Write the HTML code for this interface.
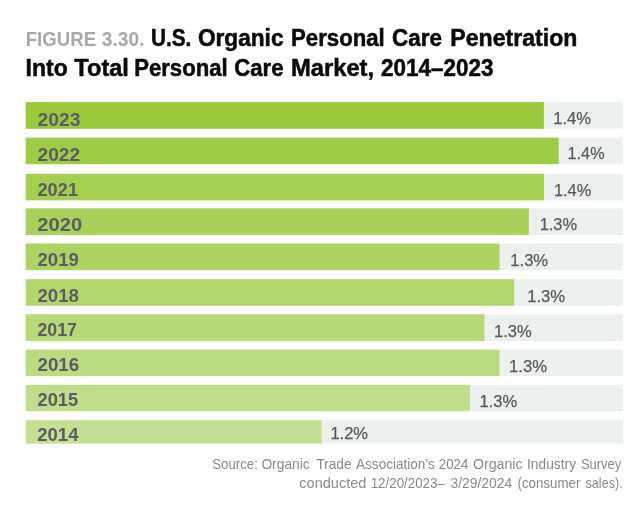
<!DOCTYPE html>
<html lang="en"><head><meta charset="utf-8"><title>Figure 3.30</title>
<style>
html,body{margin:0;padding:0;background:#fff;}
body{width:644px;height:532px;overflow:hidden;position:relative;font-family:"Liberation Sans",sans-serif;}
svg{position:absolute;left:0;top:0;display:block;}
text{font-family:"Liberation Sans",sans-serif;}
.t{font-weight:bold;font-size:23px;fill:#0a0a0a;stroke:#0a0a0a;stroke-width:0.5px;}
.f{font-weight:bold;font-size:20px;fill:#a6a8ab;}
.y{font-weight:bold;font-size:18.3px;fill:#5d5b64;}
.v{font-size:16.8px;fill:#58595b;stroke:#58595b;stroke-width:0.25px;}
.s{font-size:14.5px;fill:#87898c;}
</style></head><body>
<svg width="644" height="532" viewBox="0 0 644 532">
<rect x="25.7" y="102.1" width="597.20" height="26.70" fill="#ecf0ef"/>
<rect x="25.7" y="102.1" width="518.20" height="26.70" fill="rgb(154, 202, 60)"/>
<rect x="25.7" y="137.7" width="597.20" height="26.45" fill="#ecf0ef"/>
<rect x="25.7" y="137.7" width="533.00" height="26.45" fill="rgb(159, 204, 70)"/>
<rect x="25.7" y="173.8" width="597.20" height="26.55" fill="#ecf0ef"/>
<rect x="25.7" y="173.8" width="518.30" height="26.55" fill="rgb(164, 207, 80)"/>
<rect x="25.7" y="208.4" width="597.20" height="26.55" fill="#ecf0ef"/>
<rect x="25.7" y="208.4" width="503.20" height="26.55" fill="rgb(168, 209, 89)"/>
<rect x="25.7" y="243.5" width="597.20" height="26.65" fill="#ecf0ef"/>
<rect x="25.7" y="243.5" width="473.70" height="26.65" fill="rgb(173, 212, 99)"/>
<rect x="25.7" y="279.2" width="597.20" height="26.55" fill="#ecf0ef"/>
<rect x="25.7" y="279.2" width="488.50" height="26.55" fill="rgb(178, 214, 109)"/>
<rect x="25.7" y="314.25" width="597.20" height="26.85" fill="#ecf0ef"/>
<rect x="25.7" y="314.25" width="458.70" height="26.85" fill="rgb(183, 217, 119)"/>
<rect x="25.7" y="349.6" width="597.20" height="26.50" fill="#ecf0ef"/>
<rect x="25.7" y="349.6" width="473.80" height="26.50" fill="rgb(187, 219, 128)"/>
<rect x="25.7" y="384.9" width="597.20" height="26.25" fill="#ecf0ef"/>
<rect x="25.7" y="384.9" width="444.20" height="26.25" fill="rgb(192, 222, 138)"/>
<rect x="25.7" y="420.2" width="597.20" height="23.40" fill="#ecf0ef"/>
<rect x="25.7" y="420.2" width="296.00" height="23.40" fill="rgb(197, 224, 148)"/>
<text class="f" x="25.67" y="45.6" textLength="70.45" lengthAdjust="spacingAndGlyphs">FIGURE</text>
<text class="f" x="101.83" y="45.6" textLength="42.67" lengthAdjust="spacingAndGlyphs">3.30.</text>
<text class="t" x="150.94" y="45.6" textLength="40.39" lengthAdjust="spacingAndGlyphs">U.S.</text>
<text class="t" x="197.89" y="45.6" textLength="85.62" lengthAdjust="spacingAndGlyphs">Organic</text>
<text class="t" x="291.01" y="45.6" textLength="93.77" lengthAdjust="spacingAndGlyphs">Personal</text>
<text class="t" x="392.03" y="45.6" textLength="49.93" lengthAdjust="spacingAndGlyphs">Care</text>
<text class="t" x="450.37" y="45.6" textLength="127.05" lengthAdjust="spacingAndGlyphs">Penetration</text>
<text class="t" x="25.55" y="76.3" textLength="42.13" lengthAdjust="spacingAndGlyphs">Into</text>
<text class="t" x="74.35" y="76.3" textLength="54.54" lengthAdjust="spacingAndGlyphs">Total</text>
<text class="t" x="134.17" y="76.3" textLength="93.57" lengthAdjust="spacingAndGlyphs">Personal</text>
<text class="t" x="234.23" y="76.3" textLength="49.28" lengthAdjust="spacingAndGlyphs">Care</text>
<text class="t" x="290.91" y="76.3" textLength="83.24" lengthAdjust="spacingAndGlyphs">Market,</text>
<text class="t" x="380.99" y="76.3" textLength="112.46" lengthAdjust="spacingAndGlyphs">2014–2023</text>
<text class="y" x="37.48" y="126.0" textLength="43.19" lengthAdjust="spacingAndGlyphs">2023</text>
<text class="v" x="553.34" y="124.0" textLength="37.68" lengthAdjust="spacingAndGlyphs">1.4%</text>
<text class="y" x="37.48" y="160.79999999999998" textLength="42.80" lengthAdjust="spacingAndGlyphs">2022</text>
<text class="v" x="567.60" y="159.2" textLength="36.96" lengthAdjust="spacingAndGlyphs">1.4%</text>
<text class="y" x="37.49" y="196.2" textLength="40.53" lengthAdjust="spacingAndGlyphs">2021</text>
<text class="v" x="553.96" y="195.5" textLength="37.26" lengthAdjust="spacingAndGlyphs">1.4%</text>
<text class="y" x="37.22" y="230.79999999999998" textLength="45.01" lengthAdjust="spacingAndGlyphs">2020</text>
<text class="v" x="539.65" y="230.4" textLength="37.42" lengthAdjust="spacingAndGlyphs">1.3%</text>
<text class="y" x="37.48" y="266.2" textLength="41.48" lengthAdjust="spacingAndGlyphs">2019</text>
<text class="v" x="510.35" y="265.8" textLength="37.72" lengthAdjust="spacingAndGlyphs">1.3%</text>
<text class="y" x="37.48" y="301.8" textLength="41.48" lengthAdjust="spacingAndGlyphs">2018</text>
<text class="v" x="527.14" y="301.6" textLength="38.02" lengthAdjust="spacingAndGlyphs">1.3%</text>
<text class="y" x="37.48" y="336.3" textLength="39.49" lengthAdjust="spacingAndGlyphs">2017</text>
<text class="v" x="493.96" y="336.9" textLength="37.71" lengthAdjust="spacingAndGlyphs">1.3%</text>
<text class="y" x="37.47" y="371.3" textLength="41.80" lengthAdjust="spacingAndGlyphs">2016</text>
<text class="v" x="509.00" y="371.8" textLength="38.02" lengthAdjust="spacingAndGlyphs">1.3%</text>
<text class="y" x="37.49" y="406.2" textLength="40.73" lengthAdjust="spacingAndGlyphs">2015</text>
<text class="v" x="479.50" y="407.1" textLength="37.72" lengthAdjust="spacingAndGlyphs">1.3%</text>
<text class="y" x="37.24" y="441.4" textLength="41.22" lengthAdjust="spacingAndGlyphs">2014</text>
<text class="v" x="330.46" y="439.4" textLength="37.57" lengthAdjust="spacingAndGlyphs">1.2%</text>
<text class="s" x="212.22" y="469.1" textLength="45.64" lengthAdjust="spacingAndGlyphs">Source:</text>
<text class="s" x="261.38" y="469.1" textLength="48.32" lengthAdjust="spacingAndGlyphs">Organic</text>
<text class="s" x="316.44" y="469.1" textLength="35.07" lengthAdjust="spacingAndGlyphs">Trade</text>
<text class="s" x="356.05" y="469.1" textLength="78.80" lengthAdjust="spacingAndGlyphs">Association’s</text>
<text class="s" x="438.83" y="469.1" textLength="29.44" lengthAdjust="spacingAndGlyphs">2024</text>
<text class="s" x="473.04" y="469.1" textLength="49.48" lengthAdjust="spacingAndGlyphs">Organic</text>
<text class="s" x="527.01" y="469.1" textLength="49.09" lengthAdjust="spacingAndGlyphs">Industry</text>
<text class="s" x="580.89" y="469.1" textLength="40.27" lengthAdjust="spacingAndGlyphs">Survey</text>
<text class="s" x="299.34" y="487.8" textLength="67.04" lengthAdjust="spacingAndGlyphs">conducted</text>
<text class="s" x="370.69" y="487.8" textLength="74.17" lengthAdjust="spacingAndGlyphs">12/20/2023–</text>
<text class="s" x="450.49" y="487.8" textLength="61.71" lengthAdjust="spacingAndGlyphs">3/29/2024</text>
<text class="s" x="517.44" y="487.8" textLength="62.97" lengthAdjust="spacingAndGlyphs">(consumer</text>
<text class="s" x="585.58" y="487.8" textLength="37.07" lengthAdjust="spacingAndGlyphs">sales).</text>
</svg>
</body></html>
